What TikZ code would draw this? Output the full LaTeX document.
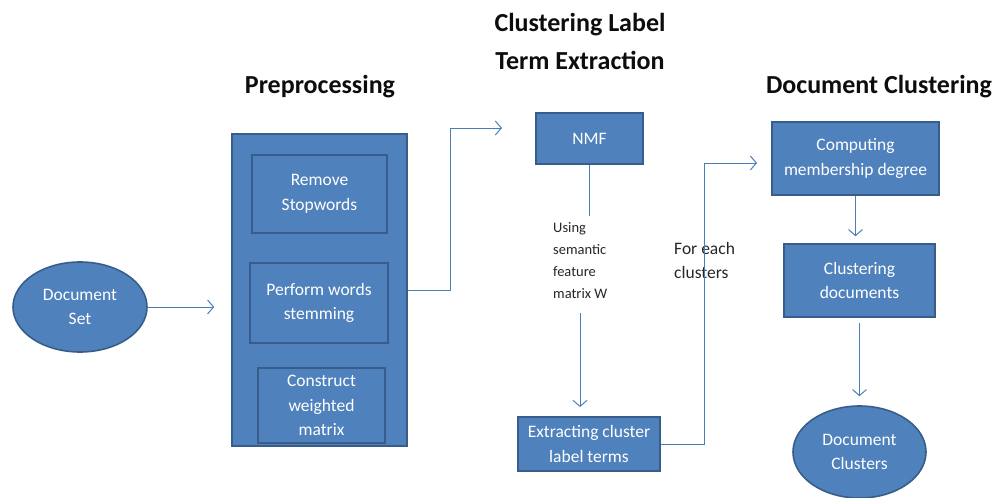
\documentclass[tikz,border=0pt]{standalone}
\usepackage{fontspec}
\setmainfont{Carlito}
\usetikzlibrary{arrows.meta,shapes.geometric}
\definecolor{boxfill}{HTML}{4F81BD}
\definecolor{boxline}{HTML}{385D8A}
\definecolor{wire}{HTML}{4A7EBB}
\definecolor{titlecol}{HTML}{0D0D0D}
\tikzset{
  block/.style={draw=boxline, line width=1.6pt, fill=boxfill, text=white,
    font=\fontsize{17.5}{24.5}\selectfont, align=center, inner sep=2pt},
  blob/.style={block, ellipse},
  wireline/.style={draw=wire, line width=1pt},
  flow/.style={wireline, -{Straight Barb[length=6pt,width=14pt,line width=1pt]}},
  heading/.style={font=\fontsize{26}{38}\selectfont\bfseries, text=titlecol, align=center},
  note/.style={font=\fontsize{14.5}{22}\selectfont, text=black!85, align=left, anchor=west, inner sep=0pt},
  bignote/.style={note, font=\fontsize{17.5}{24}\selectfont}
}
\begin{document}
\begin{tikzpicture}[x=1pt,y=-1pt]
  \useasboundingbox (0,0) rectangle (997,498);

  % headings
  \node[heading] (hpre) at (320,87) {Preprocessing};
  \node[heading] (hext) at (580,41) {Clustering Label\\Term Extraction};
  \node[heading] (hclu) at (879,87) {Document Clustering};

  % input
  \node[blob, minimum width=134pt, minimum height=90pt] (docset) at (80,307) {Document\\Set};

  % preprocessing stage
  \node[block, minimum width=175pt, minimum height=312pt] (pre) at (319.5,290) {};
  \node[block, minimum width=135pt, minimum height=78pt] (stop) at (319.5,194) {Remove\\Stopwords};
  \node[block, minimum width=138pt, minimum height=80pt] (stem) at (319,303) {Perform words\\stemming};
  \node[block, minimum width=127pt, minimum height=75pt] (wmat) at (321.5,405.5) {Construct\\weighted\\matrix};

  % label term extraction
  \node[block, minimum width=107pt, minimum height=51pt] (nmf) at (589.5,138.5) {NMF};
  \node[block, minimum width=142pt, minimum height=54pt] (extr) at (589,444) {Extracting cluster\\label terms};
  \node[note] (using) at (553,261) {Using\\semantic\\feature\\matrix W};

  % document clustering
  \node[block, minimum width=167pt, minimum height=73pt] (memb) at (855.5,158.5) {Computing\\membership degree};
  \node[block, minimum width=151pt, minimum height=73pt] (cdoc) at (859.5,280.5) {Clustering\\documents};
  \node[blob, minimum width=133pt, minimum height=92pt] (dclu) at (859.5,452) {Document\\Clusters};
  \node[bignote] (each) at (674,260) {For each\\clusters};

  % routing points
  \coordinate (up1) at (450,128);
  \coordinate (tip1) at (502,128);
  \coordinate (up2) at (704,163);
  \coordinate (tip2) at (757,163);
  \coordinate (wtop) at (580,313);
  \coordinate (wbot) at (580,407);

  % connectors
  \draw[flow, shorten >=17pt] (docset.east) -- (docset.east -| pre.west);
  \draw[flow] (pre.east) -- (pre.east -| up1) -- (up1) -- (tip1);
  \draw[wireline] (nmf.south) -- ++(0,51);
  \draw[flow] (wtop) -- (wbot);
  \draw[flow] (extr.east) -- (extr.east -| up2) -- (up2) -- (tip2);
  \draw[flow, shorten >=7pt] (memb.south) -- (memb.south |- cdoc.north);
  \draw[flow, shorten <=5pt, shorten >=9pt] (cdoc.south) -- (cdoc.south |- dclu.north);
\end{tikzpicture}
\end{document}
